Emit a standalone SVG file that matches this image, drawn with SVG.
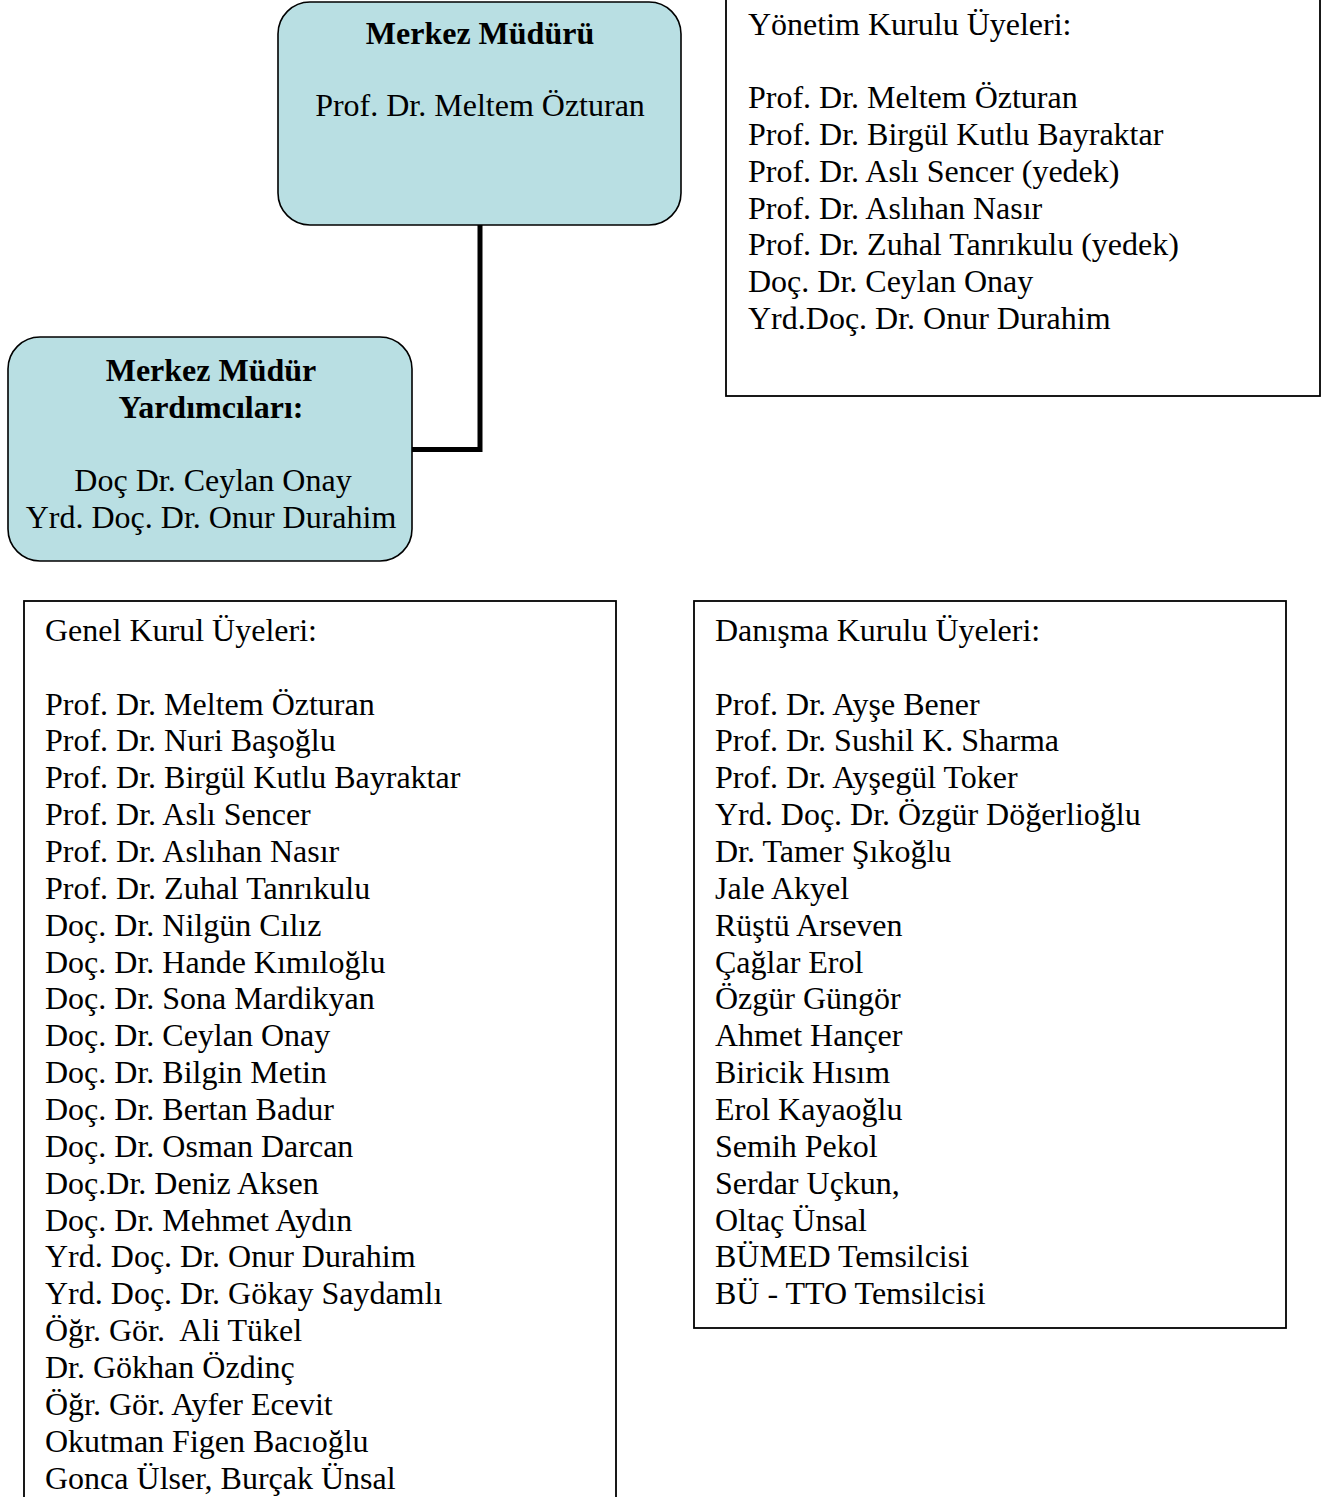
<svg xmlns="http://www.w3.org/2000/svg" width="1335" height="1497" viewBox="0 0 1335 1497">
<style>
.t{font-family:"Liberation Serif","Times New Roman",serif;font-size:32px;fill:#000}
.b{font-weight:bold}
.c{text-anchor:middle}
.rb{fill:#b9dfe3;stroke:#000;stroke-width:1.6}
.lb{fill:#fff;stroke:#000;stroke-width:1.8}
.con{fill:none;stroke:#000;stroke-width:5}
</style>
<rect width="1335" height="1497" fill="#fff"/>
<g id="connectors">
<polyline class="con" points="480,225 480,449.5 412,449.5"/>
</g>
<g id="mudur">
<rect class="rb" x="278" y="2" width="403" height="223" rx="32" ry="32"/>
<text class="t b c" x="480" y="44">Merkez Müdürü</text>
<text class="t c" x="480" y="116">Prof. Dr. Meltem Özturan</text>
</g>
<g id="yardimcilar">
<rect class="rb" x="8" y="337" width="404" height="224" rx="32" ry="32"/>
<text class="t b c" x="211" y="380.5">Merkez Müdür</text>
<text class="t b c" x="211" y="417.5">Yardımcıları:</text>
<text class="t c" x="213" y="490.5">Doç Dr. Ceylan Onay</text>
<text class="t c" x="211" y="527.5">Yrd. Doç. Dr. Onur Durahim</text>
</g>
<g id="yonetim">
<rect class="lb" x="726" y="-5" width="594" height="401"/>
<text class="t" x="748" y="34.5">Yönetim Kurulu Üyeleri:</text>
<text class="t" x="748" y="108">Prof. Dr. Meltem Özturan</text>
<text class="t" x="748" y="144.9">Prof. Dr. Birgül Kutlu Bayraktar</text>
<text class="t" x="748" y="181.7">Prof. Dr. Aslı Sencer (yedek)</text>
<text class="t" x="748" y="218.6">Prof. Dr. Aslıhan Nasır</text>
<text class="t" x="748" y="255.4">Prof. Dr. Zuhal Tanrıkulu (yedek)</text>
<text class="t" x="748" y="292.3">Doç. Dr. Ceylan Onay</text>
<text class="t" x="748" y="329.2">Yrd.Doç. Dr. Onur Durahim</text>
</g>
<g id="genel">
<rect class="lb" x="24" y="601" width="592" height="920"/>
<text class="t" x="45" y="641">Genel Kurul Üyeleri:</text>
<text class="t" x="45" y="714.5">Prof. Dr. Meltem Özturan</text>
<text class="t" x="45" y="751.4">Prof. Dr. Nuri Başoğlu</text>
<text class="t" x="45" y="788.2">Prof. Dr. Birgül Kutlu Bayraktar</text>
<text class="t" x="45" y="825.1">Prof. Dr. Aslı Sencer</text>
<text class="t" x="45" y="861.9">Prof. Dr. Aslıhan Nasır</text>
<text class="t" x="45" y="898.8">Prof. Dr. Zuhal Tanrıkulu</text>
<text class="t" x="45" y="935.7">Doç. Dr. Nilgün Cılız</text>
<text class="t" x="45" y="972.5">Doç. Dr. Hande Kımıloğlu</text>
<text class="t" x="45" y="1009.4">Doç. Dr. Sona Mardikyan</text>
<text class="t" x="45" y="1046.2">Doç. Dr. Ceylan Onay</text>
<text class="t" x="45" y="1083.1">Doç. Dr. Bilgin Metin</text>
<text class="t" x="45" y="1120">Doç. Dr. Bertan Badur</text>
<text class="t" x="45" y="1156.8">Doç. Dr. Osman Darcan</text>
<text class="t" x="45" y="1193.7">Doç.Dr. Deniz Aksen</text>
<text class="t" x="45" y="1230.5">Doç. Dr. Mehmet Aydın</text>
<text class="t" x="45" y="1267.4">Yrd. Doç. Dr. Onur Durahim</text>
<text class="t" x="45" y="1304.3">Yrd. Doç. Dr. Gökay Saydamlı</text>
<text class="t" x="45" y="1341.1" xml:space="preserve">Öğr. Gör.  Ali Tükel</text>
<text class="t" x="45" y="1378">Dr. Gökhan Özdinç</text>
<text class="t" x="45" y="1414.8">Öğr. Gör. Ayfer Ecevit</text>
<text class="t" x="45" y="1451.7">Okutman Figen Bacıoğlu</text>
<text class="t" x="45" y="1488.5">Gonca Ülser, Burçak Ünsal</text>
</g>
<g id="danisma">
<rect class="lb" x="694" y="601" width="592" height="727"/>
<text class="t" x="715" y="641">Danışma Kurulu Üyeleri:</text>
<text class="t" x="715" y="714.5">Prof. Dr. Ayşe Bener</text>
<text class="t" x="715" y="751.4">Prof. Dr. Sushil K. Sharma</text>
<text class="t" x="715" y="788.2">Prof. Dr. Ayşegül Toker</text>
<text class="t" x="715" y="825.1">Yrd. Doç. Dr. Özgür Döğerlioğlu</text>
<text class="t" x="715" y="861.9">Dr. Tamer Şıkoğlu</text>
<text class="t" x="715" y="898.8">Jale Akyel</text>
<text class="t" x="715" y="935.7">Rüştü Arseven</text>
<text class="t" x="715" y="972.5">Çağlar Erol</text>
<text class="t" x="715" y="1009.4">Özgür Güngör</text>
<text class="t" x="715" y="1046.2">Ahmet Hançer</text>
<text class="t" x="715" y="1083.1">Biricik Hısım</text>
<text class="t" x="715" y="1120">Erol Kayaoğlu</text>
<text class="t" x="715" y="1156.8">Semih Pekol</text>
<text class="t" x="715" y="1193.7">Serdar Uçkun,</text>
<text class="t" x="715" y="1230.5">Oltaç Ünsal</text>
<text class="t" x="715" y="1267.4">BÜMED Temsilcisi</text>
<text class="t" x="715" y="1304.3">BÜ - TTO Temsilcisi</text>
</g>
</svg>
